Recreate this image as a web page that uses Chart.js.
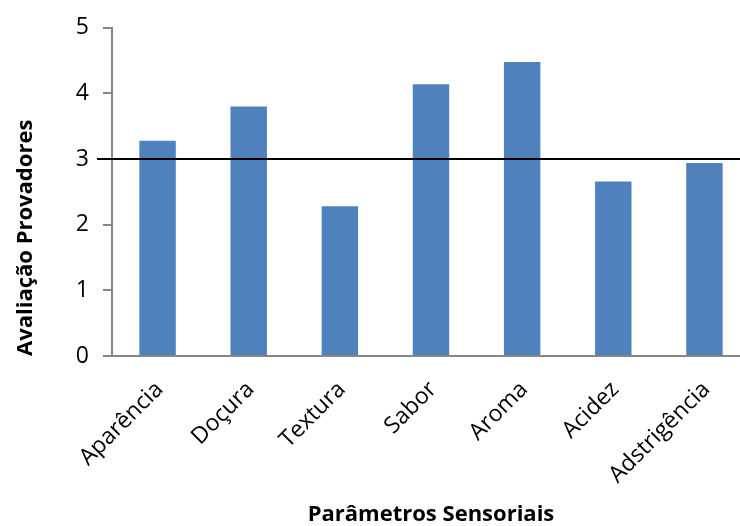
<!DOCTYPE html>
<html>
<head>
<meta charset="utf-8">
<script src="https://cdn.jsdelivr.net/npm/chart.js@4/dist/chart.umd.min.js"></script>
<style>
  html, body { margin: 0; padding: 0; background: #fff; overflow: hidden; width: 740px; height: 526px; }
  #wrap { position: absolute; left: 0; top: 0; width: 752px; height: 526px; }
</style>
</head>
<body>
<div id="wrap"><canvas id="chart"></canvas></div>
<script>
// Sensory evaluation scores per parameter
const categories = ['Aparência', 'Doçura', 'Textura', 'Sabor', 'Aroma', 'Acidez', 'Adstrigência'];
const scores = [3.28, 3.80, 2.28, 4.14, 4.48, 2.66, 2.94];
const yTicks = [0, 1, 2, 3, 4, 5];
const referenceScore = 3;

const FONT = '"Open Sans", sans-serif';

// Horizontal reference line drawn across the plot at the reference score
const referenceLine = {
  id: 'referenceLine',
  afterDatasetsDraw(chart) {
    const { ctx, chartArea, scales } = chart;
    const y = scales.y.getPixelForValue(referenceScore);
    ctx.save();
    ctx.strokeStyle = '#000';
    ctx.lineWidth = 2;
    ctx.beginPath();
    ctx.moveTo(chartArea.left - 15, y);
    ctx.lineTo(chartArea.right, y);
    ctx.stroke();
    ctx.restore();
  }
};

new Chart(document.getElementById('chart'), {
  type: 'bar',
  data: {
    labels: categories,
    datasets: [{
      data: scores,
      backgroundColor: '#4F81BD',
      borderWidth: 0,
      categoryPercentage: 1,
      barPercentage: 0.4
    }]
  },
  options: {
    responsive: true,
    maintainAspectRatio: false,
    animation: false,
    layout: { padding: { top: 23, right: 2, left: 0, bottom: 0 } },
    plugins: { legend: { display: false }, tooltip: { enabled: false } },
    scales: {
      x: {
        afterFit(scale) { scale.height = 170; },
        grid: { display: false, drawTicks: false },
        border: { display: true, color: '#868686', width: 2 },
        ticks: {
          color: '#000',
          font: { family: FONT, size: 23 },
          maxRotation: 45,
          minRotation: 45,
          padding: 20,
          labelOffset: 2,
          autoSkip: false
        },
        title: {
          display: true,
          text: 'Parâmetros Sensoriais',
          color: '#000',
          font: { family: FONT, size: 22, weight: 'bold', lineHeight: 1 },
          padding: { top: 0, bottom: 0 }
        }
      },
      y: {
        min: 0,
        max: 5,
        afterFit(scale) { scale.width = 112; },
        afterBuildTicks(scale) { scale.ticks = yTicks.map(v => ({ value: v })); },
        grid: { display: true, drawOnChartArea: false, drawTicks: true, tickLength: 9, color: '#868686', lineWidth: 2 },
        border: { display: true, color: '#868686', width: 2 },
        ticks: {
          color: '#000',
          font: { family: FONT, size: 23 },
          padding: 14
        },
        title: {
          display: true,
          text: 'Avaliação Provadores',
          color: '#000',
          align: 'start',
          font: { family: FONT, size: 22, weight: 'bold', lineHeight: 1 },
          padding: { top: 15, bottom: 0 }
        }
      }
    }
  },
  plugins: [referenceLine]
});
</script>
</body>
</html>
